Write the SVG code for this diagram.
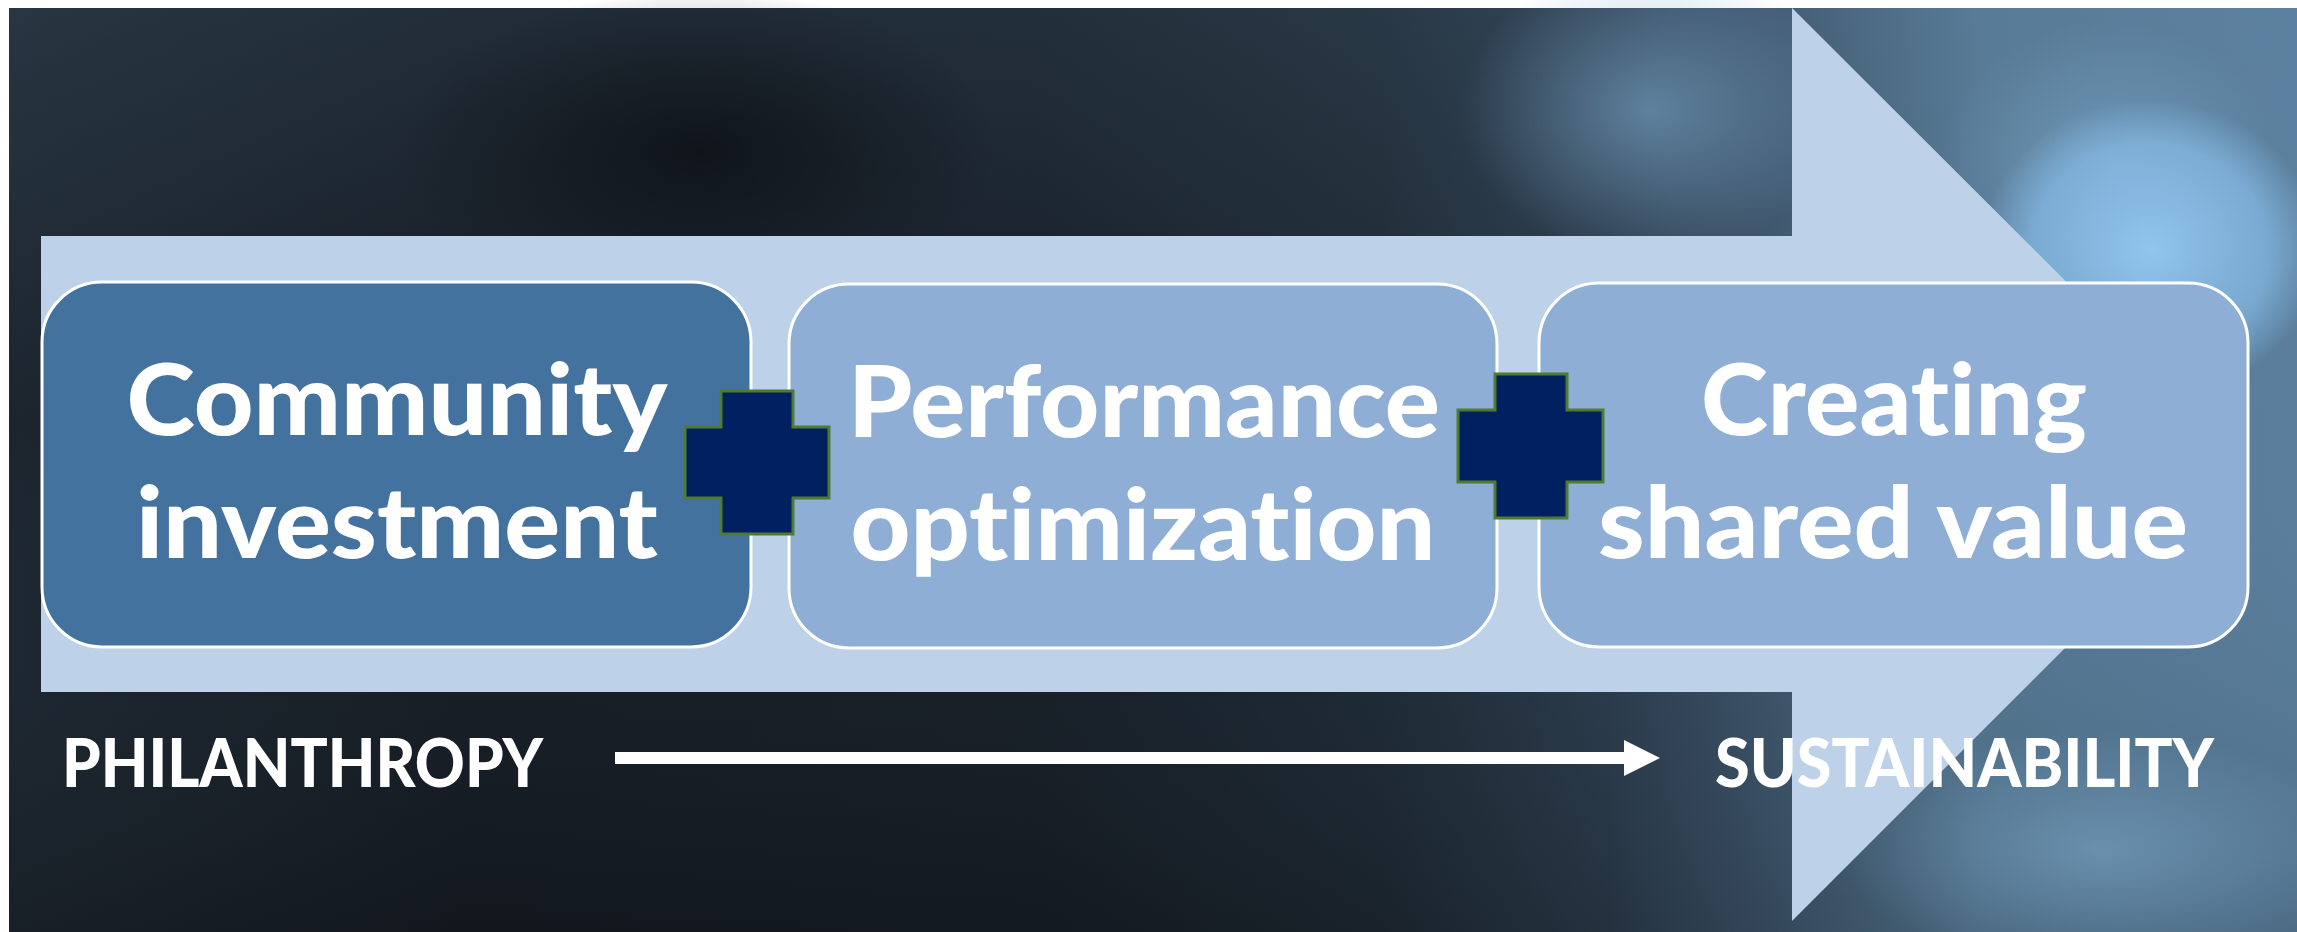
<svg xmlns="http://www.w3.org/2000/svg" width="2297" height="932" viewBox="0 0 2297 932">
  <defs>
    <linearGradient id="bgLin" x1="0" y1="0" x2="1" y2="0">
      <stop offset="0" stop-color="#1c252e"/>
      <stop offset="0.2" stop-color="#151b22"/>
      <stop offset="0.45" stop-color="#161d25"/>
      <stop offset="0.6" stop-color="#1d2832"/>
      <stop offset="0.7" stop-color="#2a3a4a"/>
      <stop offset="0.78" stop-color="#3f576d"/>
      <stop offset="0.86" stop-color="#557791"/>
      <stop offset="1" stop-color="#5a7e9c"/>
    </linearGradient>
    <linearGradient id="bgVert" x1="0" y1="0" x2="0" y2="1">
      <stop offset="0" stop-color="#6a93b5" stop-opacity="0.15"/>
      <stop offset="0.45" stop-color="#6a93b5" stop-opacity="0"/>
      <stop offset="1" stop-color="#000000" stop-opacity="0.15"/>
    </linearGradient>
    <radialGradient id="bokeh1" cx="0.5" cy="0.5" r="0.5">
      <stop offset="0" stop-color="#94c9f2" stop-opacity="0.95"/>
      <stop offset="0.7" stop-color="#86bbe6" stop-opacity="0.7"/>
      <stop offset="1" stop-color="#86bbe6" stop-opacity="0"/>
    </radialGradient>
    <radialGradient id="bokeh2" cx="0.5" cy="0.5" r="0.5">
      <stop offset="0" stop-color="#7aa6c8" stop-opacity="0.6"/>
      <stop offset="1" stop-color="#7aa6c8" stop-opacity="0"/>
    </radialGradient>
    <radialGradient id="darkBlob" cx="0.5" cy="0.5" r="0.5">
      <stop offset="0" stop-color="#0c1015" stop-opacity="0.8"/>
      <stop offset="1" stop-color="#0c1015" stop-opacity="0"/>
    </radialGradient>
    <marker id="arrowHead" markerUnits="userSpaceOnUse" markerWidth="36" markerHeight="36" refX="0" refY="18" orient="auto">
      <path d="M0,0 L36,18 L0,36 Z" fill="#ffffff"/>
    </marker>
    <style>
      .box { stroke: #ffffff; stroke-width: 3; }
      .dark { fill: #44729e; }
      .light { fill: #8eaed5; }
      .band { fill: #bdd1e9; }
      .cross { fill: #00205f; stroke: #4f7a30; stroke-width: 3; }
      .big { font-family: Lato, "Open Sans", "Liberation Sans", sans-serif; font-weight: 900; font-size: 100px; fill: #ffffff; text-anchor: middle; font-variant-ligatures: none; font-feature-settings: "liga" 0, "clig" 0; }
      .label { font-family: Lato, "Open Sans", "Liberation Sans", sans-serif; font-weight: 900; font-size: 66px; fill: #ffffff; font-variant-ligatures: none; }
    </style>
  </defs>

  <!-- background -->
  <rect x="0" y="0" width="2297" height="932" fill="#ffffff"/>
  <g id="background">
    <rect x="9" y="8" width="2288" height="924" fill="url(#bgLin)"/>
    <rect x="9" y="8" width="2288" height="924" fill="url(#bgVert)"/>
    <ellipse cx="700" cy="150" rx="300" ry="160" fill="url(#darkBlob)"/>
    <ellipse cx="1650" cy="110" rx="190" ry="150" fill="url(#bokeh2)"/>
    <ellipse cx="2110" cy="160" rx="170" ry="140" fill="url(#bokeh2)"/>
    <ellipse cx="2150" cy="250" rx="170" ry="150" fill="url(#bokeh1)"/>
    <ellipse cx="2100" cy="850" rx="260" ry="120" fill="url(#bokeh2)"/>
  </g>

  <!-- big arrow band -->
  <g id="bigArrow">
    <polygon class="band" points="41,236 1792,236 1792,8 2249,464 1792,921 1792,692 41,692"/>
  </g>

  <!-- nodes -->
  <g id="node-community">
    <rect class="box dark" x="42" y="282" width="709" height="365" rx="60" ry="60"/>
    <text class="big" x="397" y="435" textLength="541" lengthAdjust="spacingAndGlyphs">Community</text>
    <text class="big" x="397" y="558" textLength="522" lengthAdjust="spacingAndGlyphs">investment</text>
  </g>
  <g id="node-performance">
    <rect class="box light" x="789" y="284" width="708" height="364" rx="60" ry="60"/>
    <text class="big" x="1144" y="437" textLength="592" lengthAdjust="spacingAndGlyphs">Performance</text>
    <text class="big" x="1143" y="560" textLength="585" lengthAdjust="spacingAndGlyphs">optimization</text>
  </g>
  <g id="node-shared-value">
    <rect class="box light" x="1539" y="283" width="709" height="364" rx="60" ry="60"/>
    <text class="big" x="1894" y="435" textLength="386" lengthAdjust="spacingAndGlyphs">Creating</text>
    <text class="big" x="1893" y="558" textLength="590" lengthAdjust="spacingAndGlyphs">shared value</text>
  </g>

  <!-- plus signs -->
  <g id="plus-1">
    <polygon class="cross" points="721,391 793,391 793,427 829,427 829,498 793,498 793,534 721,534 721,498 685,498 685,427 721,427"/>
  </g>
  <g id="plus-2">
    <polygon class="cross" points="1495,374 1567,374 1567,410 1603,410 1603,482 1567,482 1567,518 1495,518 1495,482 1458,482 1458,410 1495,410"/>
  </g>

  <!-- labels -->
  <g id="label-philanthropy">
    <text class="label" x="62" y="787" textLength="481" lengthAdjust="spacingAndGlyphs">PHILANTHROPY</text>
  </g>
  <g id="label-sustainability">
    <text class="label" x="1715" y="787" textLength="499" lengthAdjust="spacingAndGlyphs">SUSTAINABILITY</text>
  </g>

  <!-- connectors -->
  <g id="connectors">
    <line x1="615" y1="758" x2="1624" y2="758" stroke="#ffffff" stroke-width="12" marker-end="url(#arrowHead)"/>
  </g>
</svg>
